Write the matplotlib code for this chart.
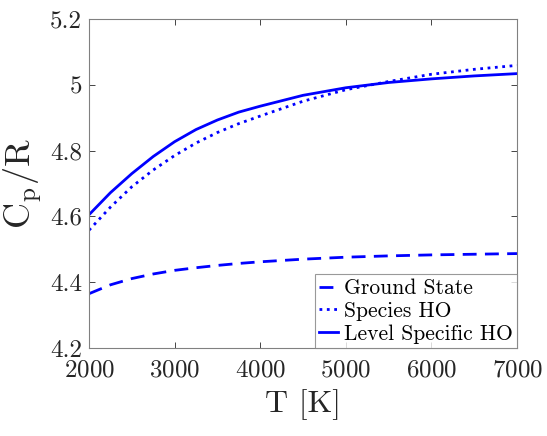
import matplotlib
matplotlib.use("Agg")
import matplotlib.pyplot as plt
from matplotlib.ticker import FuncFormatter

plt.rcParams["font.family"] = "serif"
plt.rcParams["font.serif"] = ["cmr10"]
plt.rcParams["mathtext.fontset"] = "cm"
plt.rcParams["axes.formatter.use_mathtext"] = True

temperature = [2000, 2250, 2500, 2750, 3000, 3250, 3500, 3750, 4000,
               4500, 5000, 5500, 6000, 6500, 7000]
ground_state = [4.365, 4.392, 4.411, 4.425, 4.436, 4.444, 4.451, 4.457, 4.462,
                4.470, 4.476, 4.480, 4.483, 4.485, 4.487]
species_ho = [4.558, 4.628, 4.690, 4.741, 4.785, 4.823, 4.855, 4.882, 4.905,
              4.950, 4.985, 5.010, 5.032, 5.047, 5.059]
level_specific_ho = [4.605, 4.672, 4.730, 4.782, 4.827, 4.864, 4.893, 4.917, 4.935,
                     4.968, 4.991, 5.007, 5.018, 5.027, 5.034]

x_ticks = [2000, 3000, 4000, 5000, 6000, 7000]
y_ticks = [4.2, 4.4, 4.6, 4.8, 5.0, 5.2]

fig = plt.figure(figsize=(5.47, 4.36), dpi=100)
ax = fig.add_axes([89 / 547, 1 - 348 / 436, 428 / 547, 329 / 436])

ax.plot(temperature, ground_state, "--", color="blue", linewidth=2, dashes=(5, 3), label="Ground State")
ax.plot(temperature, species_ho, ":", color="blue", linewidth=2, label="Species HO")
ax.plot(temperature, level_specific_ho, "-", color="blue", linewidth=2, label="Level Specific HO")

ax.set_xlim(2000, 7000)
ax.set_ylim(4.2, 5.2)
ax.set_xticks(x_ticks)
ax.set_yticks(y_ticks)
ax.yaxis.set_major_formatter(FuncFormatter(lambda v, p: f"{v:g}"))
ax.tick_params(direction="in", top=True, right=True, labelsize=18, colors="#262626",
               length=4, width=0.6)
ax.tick_params(axis="x", pad=8)
ax.tick_params(axis="y", pad=5)
for spine in ax.spines.values():
    spine.set_color("#808080")
    spine.set_linewidth(0.8)

ax.set_xlabel("T [K]", fontsize=23, color="#262626", labelpad=6)
ax.set_ylabel(r"$\mathrm{C_p/R}$", fontsize=26, color="#262626", labelpad=4)

leg = ax.legend(loc="lower right", fontsize=15.5, frameon=True, fancybox=False,
                borderaxespad=0, handlelength=0.9, handletextpad=0.25,
                borderpad=0.2, labelspacing=0.15)
leg.get_frame().set_edgecolor("#808080")
leg.get_frame().set_linewidth(0.8)

fig.savefig("out.png", dpi=100)
